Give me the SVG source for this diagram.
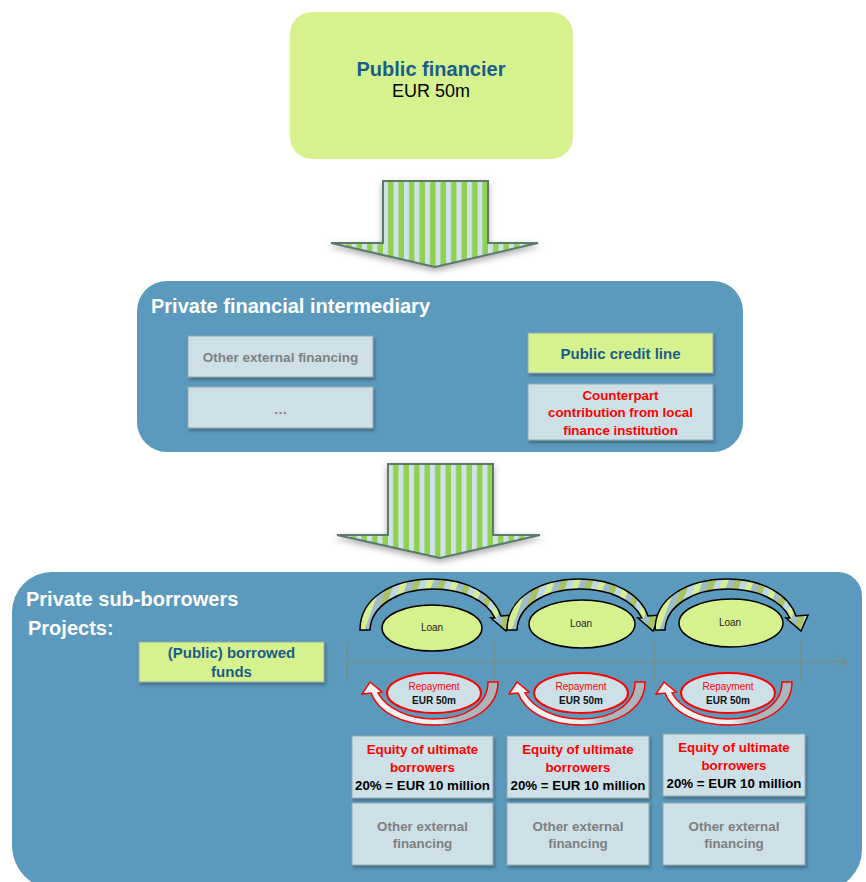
<svg xmlns="http://www.w3.org/2000/svg" width="866" height="882" viewBox="0 0 866 882">
<style>
text{font-family:"Liberation Sans",Arial,sans-serif}
.b{font-weight:bold}
.c{text-anchor:middle}
.lime{fill:#d6f28e}
.lb{fill:#cde0e8;stroke:#93a7ae;stroke-width:1}
.lbox{fill:#d6f28e;stroke:#93a7ae;stroke-width:1}
.blue{fill:#1b5d8a}
.red{fill:#ff0000}
.gray{fill:#808080}
.wt{fill:#ffffff}
.big{stroke:#5b7a6b;stroke-width:2;stroke-linejoin:miter}
.loanArc{fill:url(#diag);stroke:#000;stroke-width:1.5;stroke-linejoin:miter}
.loanEl{fill:#d6f28e;stroke:#000;stroke-width:1.5}
.repArc{fill:url(#repG);stroke:#ff0000;stroke-width:1.5;stroke-linejoin:miter}
.repEl{fill:#cde0e8;stroke:#ff0000;stroke-width:2}
.tl{stroke:#7e8a6e;stroke-width:1;fill:none}
</style>
<defs>
<pattern id="vs1" patternUnits="userSpaceOnUse" x="383" y="0" width="10.5" height="10">
<rect width="10.5" height="10" fill="#cfe1ea"/><rect x="5" width="5.5" height="10" fill="#92d050"/>
</pattern>
<pattern id="vs2" patternUnits="userSpaceOnUse" x="388" y="0" width="10.5" height="10">
<rect width="10.5" height="10" fill="#cfe1ea"/><rect x="5" width="5.5" height="10" fill="#92d050"/>
</pattern>
<pattern id="diag" patternUnits="userSpaceOnUse" width="24" height="24" patternTransform="rotate(20)">
<rect width="24" height="24" fill="#d6ef92"/>
<rect x="6" width="6" height="24" fill="#9fbcc9"/>
<rect x="12" width="6" height="24" fill="#a8c462"/>
<rect x="18" width="6" height="24" fill="#bcd8e4"/>
</pattern>
<linearGradient id="repG" x1="0" y1="0" x2="1" y2="0">
<stop offset="0" stop-color="#f4f7f8"/><stop offset="0.55" stop-color="#eef2f3"/><stop offset="0.7" stop-color="#a9b7bd"/><stop offset="1" stop-color="#a9b7bd"/>
</linearGradient>
<filter id="sh" x="-10%" y="-10%" width="130%" height="140%">
<feDropShadow dx="1.5" dy="2.5" stdDeviation="1.5" flood-color="#203040" flood-opacity="0.45"/>
</filter>
<filter id="ash" x="-20%" y="-20%" width="140%" height="150%">
<feDropShadow dx="0" dy="3" stdDeviation="3" flood-color="#555" flood-opacity="0.5"/>
</filter>
</defs>

<g id="public-financier">
<rect x="290" y="12" width="283" height="147" rx="22" class="lime"/>
<text x="431" y="76" class="b c blue" font-size="20">Public financier</text>
<text x="431" y="97" class="c" font-size="18" fill="#000">EUR 50m</text>
</g>

<g id="intermediary">
<rect x="137" y="281" width="606" height="171" rx="30" fill="#5b9abd"/>
<text x="151" y="313" class="b wt" font-size="20">Private financial intermediary</text>
<g id="other-ext-1" filter="url(#sh)"><rect x="188" y="336" width="185" height="41" class="lb"/></g>
<text x="280.5" y="362" class="b c gray" font-size="13.5">Other external financing</text>
<g id="dots" filter="url(#sh)"><rect x="188" y="387" width="185" height="41" class="lb"/></g>
<text x="280.5" y="414" class="b c gray" font-size="13.5">…</text>
<g id="credit-line" filter="url(#sh)"><rect x="528" y="333" width="185" height="40" class="lbox"/></g>
<text x="620.5" y="359" class="b c blue" font-size="15">Public credit line</text>
<g id="counterpart" filter="url(#sh)"><rect x="528" y="384" width="185" height="56" class="lb"/></g>
<text class="b c red" font-size="13.3"><tspan x="620.5" y="400">Counterpart</tspan><tspan x="620.5" y="417">contribution from local</tspan><tspan x="620.5" y="435">finance institution</tspan></text>
</g>

<g id="sub-borrowers">
<path d="M52,572 H838 A24,24 0 0 1 862,596 V850 A40,40 0 0 1 822,890 H57 A45,45 0 0 1 12,845 V612 A40,40 0 0 1 52,572 Z" fill="#5b9abd"/>
<text x="26" y="606" class="b wt" font-size="20">Private sub-borrowers</text>
<text x="28" y="635" class="b wt" font-size="20">Projects:</text>
</g>

<g id="borrowed-funds">
<rect x="139" y="642" width="185" height="40" class="lbox" filter="url(#sh)"/>
<text class="b c blue" font-size="15"><tspan x="231.5" y="658">(Public) borrowed</tspan><tspan x="231.5" y="677">funds</tspan></text>
</g>

<g id="connectors">
<path class="big" fill="url(#vs1)" filter="url(#ash)" d="M383,181 H488 V243 H538 L435,267 L331,243 H383 Z"/>
<path class="big" fill="url(#vs2)" filter="url(#ash)" d="M388,464 H493 V535 H540 L440,558 L337,535 H388 Z"/>
<g id="timeline">
<path class="tl" d="M347,662 H847 M837,656 L847,662 L837,668"/>
<path class="tl" d="M347,642 V683 M494,642 V683 M654,642 V683 M801,642 V683"/>
</g>
<g id="loan-arrows">
<path id="la1" class="loanArc" d="M360,630 C360,598 392,579 433,579 C468,579 494,595 501,616 L513,615 L506,631 L491,618 L495,618 C486,600 462,589 433,589 C398,589 371,606 370,630 Z"/>
<use href="#la1" x="147"/>
<use href="#la1" x="295"/>
</g>
<g id="repay-arrows">
<path id="ra1" class="repArc" d="M488,682 L498,682 C498,708 472,725 434,725 C402,725 378,712 371,693 L362,694 L370,682 L382,692 L378,693 C386,708 408,719 434,719 C466,719 488,704 488,682 Z"/>
<use href="#ra1" x="147"/>
<use href="#ra1" x="294"/>
</g>
</g>

<g id="loan-1"><ellipse cx="432" cy="628" rx="50" ry="23" class="loanEl"/><text x="432" y="631" class="c" font-size="10" fill="#222">Loan</text></g>
<g id="loan-2"><ellipse cx="582" cy="624" rx="53" ry="24" class="loanEl"/><text x="581" y="627" class="c" font-size="10" fill="#222">Loan</text></g>
<g id="loan-3"><ellipse cx="731" cy="623" rx="52" ry="24" class="loanEl"/><text x="730" y="626" class="c" font-size="10" fill="#222">Loan</text></g>

<g id="repay-1"><ellipse cx="434" cy="693" rx="47" ry="20" class="repEl"/><text x="434" y="690" class="c red" font-size="10">Repayment</text><text x="434" y="704" class="b c" font-size="10" fill="#111">EUR 50m</text></g>
<g id="repay-2"><ellipse cx="581" cy="693" rx="47" ry="20" class="repEl"/><text x="581" y="690" class="c red" font-size="10">Repayment</text><text x="581" y="704" class="b c" font-size="10" fill="#111">EUR 50m</text></g>
<g id="repay-3"><ellipse cx="728" cy="693" rx="47" ry="20" class="repEl"/><text x="728" y="690" class="c red" font-size="10">Repayment</text><text x="728" y="704" class="b c" font-size="10" fill="#111">EUR 50m</text></g>

<g id="equity-1">
<rect x="352" y="736" width="141" height="62" class="lb" filter="url(#sh)"/>
<text class="b c red" font-size="13.3"><tspan x="422.5" y="754">Equity of ultimate</tspan><tspan x="422.5" y="772">borrowers</tspan></text>
<text x="422.5" y="790" class="b c" font-size="13.3" fill="#000">20% = EUR 10 million</text>
</g>
<g id="equity-2">
<rect x="507" y="736" width="142" height="62" class="lb" filter="url(#sh)"/>
<text class="b c red" font-size="13.3"><tspan x="578" y="754">Equity of ultimate</tspan><tspan x="578" y="772">borrowers</tspan></text>
<text x="578" y="790" class="b c" font-size="13.3" fill="#000">20% = EUR 10 million</text>
</g>
<g id="equity-3">
<rect x="663" y="734" width="142" height="62" class="lb" filter="url(#sh)"/>
<text class="b c red" font-size="13.3"><tspan x="734" y="752">Equity of ultimate</tspan><tspan x="734" y="770">borrowers</tspan></text>
<text x="734" y="788" class="b c" font-size="13.3" fill="#000">20% = EUR 10 million</text>
</g>

<g id="other-1">
<rect x="352" y="803" width="141" height="62" class="lb" filter="url(#sh)"/>
<text class="b c gray" font-size="13.4"><tspan x="422.5" y="831">Other external</tspan><tspan x="422.5" y="848">financing</tspan></text>
</g>
<g id="other-2">
<rect x="507" y="803" width="142" height="62" class="lb" filter="url(#sh)"/>
<text class="b c gray" font-size="13.4"><tspan x="578" y="831">Other external</tspan><tspan x="578" y="848">financing</tspan></text>
</g>
<g id="other-3">
<rect x="663" y="803" width="142" height="62" class="lb" filter="url(#sh)"/>
<text class="b c gray" font-size="13.4"><tspan x="734" y="831">Other external</tspan><tspan x="734" y="848">financing</tspan></text>
</g>
</svg>
